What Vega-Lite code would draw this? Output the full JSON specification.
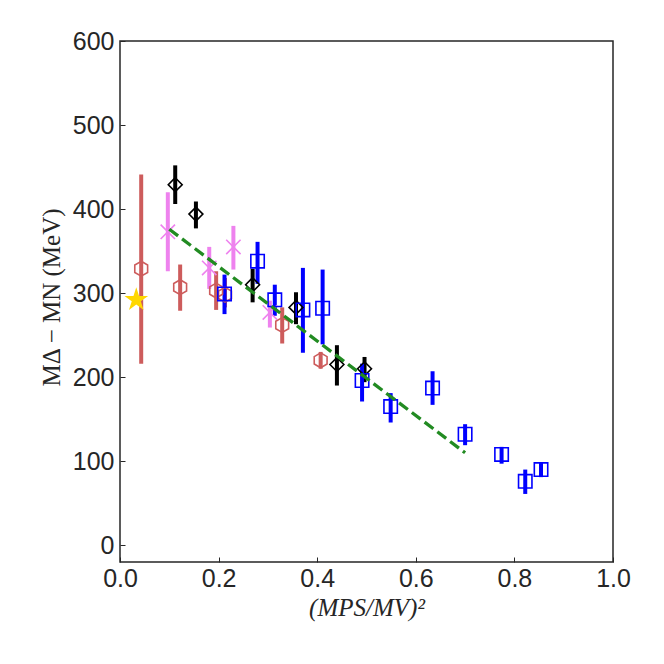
{
  "$schema": "https://vega.github.io/schema/vega-lite/v6.json",
  "autosize": {"type": "none"},
  "padding": {"left": 120, "top": 41, "right": 51, "bottom": 102},
  "width": 493,
  "height": 521,
  "background": "white",
  "config": {
    "view": {"stroke": "#262626", "strokeWidth": 1.5},
    "axis": {"domain": false, "grid": false, "tickSize": -5, "tickColor": "#262626", "tickWidth": 1,
             "labelFont": "Liberation Sans", "labelFontSize": 25, "labelColor": "#262626",
             "labelFlush": false, "labelOverlap": false, "labelBound": false,
             "titleFont": "Liberation Serif", "titleFontSize": 25, "titleFontWeight": "normal", "titleColor": "#262626"}
  },
  "datasets": {
    "points": [
      {"series": "s1", "x": 0.043, "y": 329, "lo": 216, "hi": 441},
      {"series": "s1", "x": 0.122, "y": 307, "lo": 279, "hi": 334},
      {"series": "s1", "x": 0.195, "y": 303, "lo": 280, "hi": 326},
      {"series": "s1", "x": 0.213, "y": 298, "lo": 283, "hi": 318},
      {"series": "s1", "x": 0.329, "y": 262, "lo": 240, "hi": 283},
      {"series": "s1", "x": 0.407, "y": 220, "lo": 210, "hi": 230},
      {"series": "s2", "x": 0.097, "y": 373, "lo": 326, "hi": 420},
      {"series": "s2", "x": 0.181, "y": 330, "lo": 305, "hi": 355},
      {"series": "s2", "x": 0.230, "y": 355, "lo": 328, "hi": 380},
      {"series": "s2", "x": 0.304, "y": 277, "lo": 259, "hi": 291},
      {"series": "s3", "x": 0.112, "y": 429, "lo": 406, "hi": 452},
      {"series": "s3", "x": 0.154, "y": 394, "lo": 377, "hi": 409},
      {"series": "s3", "x": 0.269, "y": 310, "lo": 289, "hi": 329},
      {"series": "s3", "x": 0.357, "y": 283, "lo": 263, "hi": 301},
      {"series": "s3", "x": 0.440, "y": 215, "lo": 190, "hi": 238},
      {"series": "s3", "x": 0.496, "y": 210, "lo": 194, "hi": 224},
      {"series": "s4", "x": 0.212, "y": 299, "lo": 275, "hi": 322},
      {"series": "s4", "x": 0.279, "y": 338, "lo": 311, "hi": 361},
      {"series": "s4", "x": 0.314, "y": 292, "lo": 273, "hi": 310},
      {"series": "s4", "x": 0.371, "y": 280, "lo": 229, "hi": 330},
      {"series": "s4", "x": 0.411, "y": 282, "lo": 239, "hi": 328},
      {"series": "s4", "x": 0.491, "y": 196, "lo": 171, "hi": 216},
      {"series": "s4", "x": 0.549, "y": 165, "lo": 146, "hi": 181},
      {"series": "s4", "x": 0.634, "y": 187, "lo": 167, "hi": 207},
      {"series": "s4", "x": 0.700, "y": 132, "lo": 119, "hi": 144},
      {"series": "s4", "x": 0.774, "y": 108, "lo": 97, "hi": 117},
      {"series": "s4", "x": 0.822, "y": 76, "lo": 61, "hi": 90},
      {"series": "s4", "x": 0.854, "y": 90, "lo": 81, "hi": 99},
      {"series": "s5", "x": 0.033, "y": 292, "lo": 292, "hi": 292}
    ],
    "fit": [
      {"x": 0.1, "y": 376},
      {"x": 0.7, "y": 110}
    ]
  },
  "encoding": {
    "x": {"field": "x", "type": "quantitative",
          "scale": {"domain": [0, 1], "nice": false, "zero": false},
          "axis": {"values": [0, 0.2, 0.4, 0.6, 0.8, 1.0], "format": ".1f", "labelPadding": 9,
                   "title": "(MPS/MV)²", "titleFontStyle": "italic", "titleY": 53, "titleBaseline": "alphabetic"}},
    "y": {"field": "y", "type": "quantitative",
          "scale": {"domain": [-20, 600], "nice": false, "zero": false},
          "axis": {"values": [0, 100, 200, 300, 400, 500, 600], "labelPadding": 11,
                   "title": "MΔ − MN (MeV)", "titleAngle": -90, "titleX": -61, "titleY": 256,
                   "titleAlign": "center", "titleBaseline": "alphabetic"}}
  },
  "layer": [
    {
      "data": {"name": "points"},
      "transform": [{"filter": "datum.series != 's5'"}],
      "mark": {"type": "rule", "strokeWidth": 4},
      "encoding": {
        "y": {"field": "lo", "type": "quantitative"},
        "y2": {"field": "hi"},
        "color": {"field": "series", "type": "nominal", "legend": null,
                  "scale": {"domain": ["s1", "s2", "s3", "s4", "s5"],
                            "range": ["#CD5C5C", "#EE82EE", "#000000", "#0000FF", "#FFD700"]}}
      }
    },
    {
      "data": {"name": "points"},
      "transform": [{"filter": "datum.series != 's5'"}],
      "mark": {"type": "point", "filled": false, "strokeWidth": 1.6, "opacity": 1},
      "encoding": {
        "color": {"field": "series", "type": "nominal", "legend": null,
                  "scale": {"domain": ["s1", "s2", "s3", "s4", "s5"],
                            "range": ["#CD5C5C", "#EE82EE", "#000000", "#0000FF", "#FFD700"]}},
        "shape": {"field": "series", "type": "nominal", "legend": null,
                  "scale": {"domain": ["s1", "s2", "s3", "s4"],
                            "range": ["M0,-1L0.866,-0.5L0.866,0.5L0,1L-0.866,0.5L-0.866,-0.5Z", "M-1,-1L1,1M-1,1L1,-1", "M0,-1L1,0L0,1L-1,0Z", "square"]}},
        "size": {"field": "series", "type": "nominal", "legend": null,
                 "scale": {"domain": ["s1", "s2", "s3", "s4"], "range": [220, 180, 450, 169]}}
      }
    },
    {
      "data": {"name": "points"},
      "transform": [{"filter": "datum.series == 's5'"}],
      "mark": {"type": "point", "filled": true, "opacity": 1, "color": "#FFD700", "size": 620,
               "shape": "M0,-1L0.2245,-0.309L0.951,-0.309L0.363,0.118L0.588,0.809L0,0.382L-0.588,0.809L-0.363,0.118L-0.951,-0.309L-0.2245,-0.309Z"},
      "encoding": {}
    },
    {
      "data": {"name": "fit"},
      "mark": {"type": "line", "color": "#228B22", "strokeWidth": 3.3, "strokeDash": [11, 5]},
      "encoding": {}
    }
  ]
}
